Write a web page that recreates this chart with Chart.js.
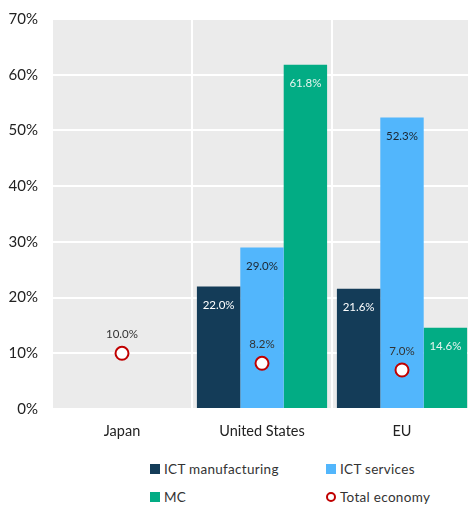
<!DOCTYPE html>
<html lang="en">
<head>
    <meta charset="UTF-8">
    <title>ICT contribution chart</title>
    <script src="https://cdn.jsdelivr.net/npm/chart.js"></script>
    <style>
        * {
            margin: 0;
            padding: 0;
            box-sizing: border-box;
        }

        body {
            background: #fff;
            width: 468px;
            height: 507px;
            overflow: hidden;
            font-family: 'Lato', sans-serif;
        }

        .chart-box {
            position: relative;
            width: 472px;
            height: 445px;
        }

        .legend {
            position: relative;
            width: 468px;
            height: 62px;
        }

        .legend-item {
            position: absolute;
            display: flex;
            align-items: center;
            font-size: 13.5px;
            color: #333;
            letter-spacing: 0.3px;
        }

        .legend-mark {
            width: 10px;
            height: 10px;
            margin-right: 4px;
        }

        .legend-mark.circle {
            border: 2px solid #c00000;
            border-radius: 50%;
            background: #fff;
        }
    </style>
</head>
<body>
    <div class="chart-box">
        <canvas id="chart"></canvas>
    </div>
    <div class="legend" id="legend"></div>

    <script>
        const categories = ['Japan', 'United States', 'EU'];
        const ictManufacturing = [null, 22.0, 21.6];
        const ictServices = [null, 29.0, 52.3];
        const mc = [null, 61.8, 14.6];
        const totalEconomy = [10.0, 8.2, 7.0];
        const yMax = 70;
        const yStep = 10;

        // grey plot background
        const plotBg = {
            id: 'plotBg',
            beforeDraw(chart) {
                const { ctx, chartArea: a } = chart;
                ctx.save();
                ctx.fillStyle = '#ebebeb';
                ctx.fillRect(a.left, a.top, a.right - a.left, a.bottom - a.top);
                ctx.restore();
            }
        };

        // value labels inside bars and above points
        const valueLabels = {
            id: 'valueLabels',
            afterDatasetsDraw(chart) {
                const ctx = chart.ctx;
                ctx.save();
                ctx.font = '11.5px Lato';
                ctx.textAlign = 'center';
                ctx.textBaseline = 'middle';
                chart.data.datasets.forEach((ds, i) => {
                    const meta = chart.getDatasetMeta(i);
                    meta.data.forEach((el, j) => {
                        const v = ds.data[j];
                        if (v === null) return;
                        const txt = v.toFixed(1) + '%';
                        if (ds.type === 'line') {
                            ctx.fillStyle = '#333';
                            ctx.fillText(txt, el.x, el.y - 19);
                        } else {
                            ctx.fillStyle = ds.labelColor;
                            ctx.fillText(txt, el.x, el.y + 19);
                        }
                    });
                });
                ctx.restore();
            }
        };

        const ctx = document.getElementById('chart').getContext('2d');
        const chart = new Chart(ctx, {
            type: 'bar',
            data: {
                labels: categories,
                datasets: [
                    {
                        type: 'line',
                        label: 'Total economy',
                        data: totalEconomy,
                        showLine: false,
                        pointStyle: 'circle',
                        pointRadius: 6.5,
                        pointBorderWidth: 2,
                        pointBorderColor: '#c00000',
                        pointBackgroundColor: '#fff',
                        order: 0
                    },
                    {
                        type: 'bar',
                        label: 'ICT manufacturing',
                        data: ictManufacturing,
                        backgroundColor: '#143c58',
                        labelColor: '#fff',
                        order: 1
                    },
                    {
                        type: 'bar',
                        label: 'ICT services',
                        data: ictServices,
                        backgroundColor: '#52b6fc',
                        labelColor: '#1c2530',
                        order: 1
                    },
                    {
                        type: 'bar',
                        label: 'MC',
                        data: mc,
                        backgroundColor: '#02ac84',
                        labelColor: '#e6f5ef',
                        order: 1
                    }
                ]
            },
            options: {
                responsive: true,
                maintainAspectRatio: false,
                animation: false,
                datasets: {
                    bar: {
                        categoryPercentage: 0.93,
                        barPercentage: 1.0
                    }
                },
                layout: {
                    autoPadding: false,
                    padding: { top: 19, right: 0, left: 0, bottom: 0 }
                },
                plugins: {
                    legend: { display: false },
                    tooltip: { enabled: false }
                },
                scales: {
                    x: {
                        grid: {
                            color: '#fff',
                            lineWidth: 2,
                            offset: true,
                            drawTicks: false
                        },
                        border: { display: false },
                        ticks: {
                            color: '#222',
                            font: { family: 'Lato', size: 14.5 },
                            padding: 14
                        },
                        afterFit(scale) {
                            scale.height = 36;
                            scale.paddingLeft = 0;
                            scale.paddingRight = 0;
                        }
                    },
                    y: {
                        min: 0,
                        max: yMax,
                        grid: {
                            color: '#fff',
                            lineWidth: 2,
                            drawTicks: false
                        },
                        border: { display: false },
                        ticks: {
                            stepSize: yStep,
                            color: '#222',
                            font: { family: 'Lato', size: 15 },
                            padding: 14,
                            callback: v => v + '%'
                        },
                        afterFit(scale) {
                            scale.width = 52;
                            scale.paddingTop = 0;
                            scale.paddingBottom = 0;
                        }
                    }
                }
            },
            plugins: [plotBg, valueLabels]
        });

        // legend laid out in two columns like the original
        const legendPos = {
            'ICT manufacturing': [150, 16],
            'ICT services': [326, 16],
            'MC': [150, 44],
            'Total economy': [326, 44]
        };
        const legendEl = document.getElementById('legend');
        chart.data.datasets.forEach(ds => {
            const item = document.createElement('div');
            item.className = 'legend-item';
            const p = legendPos[ds.label];
            item.style.left = p[0] + 'px';
            item.style.top = p[1] + 'px';
            const mark = document.createElement('span');
            mark.className = 'legend-mark';
            if (ds.type === 'line') {
                mark.classList.add('circle');
            } else {
                mark.style.background = ds.backgroundColor;
            }
            item.appendChild(mark);
            item.appendChild(document.createTextNode(ds.label));
            legendEl.appendChild(item);
        });
    </script>
</body>
</html>
